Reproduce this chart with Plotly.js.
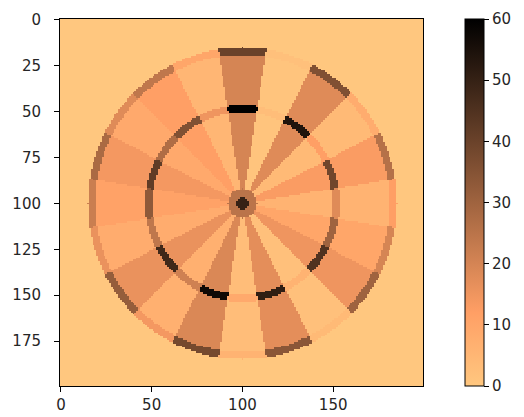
<!DOCTYPE html>
<html>
<head>
<meta charset="utf-8">
<script src="https://cdn.plot.ly/plotly-3.0.1.min.js"></script>
<style>
html,body{margin:0;padding:0;background:#fff;}
#chart{width:524px;height:417px;}
</style>
</head>
<body>
<div id="chart"></div>
<script>
// Dartboard sector numbers, clockwise from the top
const sectorNumbers = [20, 1, 18, 4, 13, 6, 10, 15, 2, 17, 3, 19, 7, 16, 8, 11, 14, 9, 12, 5];
// Ring edges (in pixels): bull, outer bull, triple in/out, double in/out
const ringEdges = [3.2, 8, 49.5, 53.5, 81, 85];
const bullValues = [50, 25];
const ringMultipliers = [1, 3, 1, 2];
const gridSize = [200, 200];
const boardCenter = [100, 100];
const xTicks = [0, 50, 100, 150];
const yTicks = [0, 25, 50, 75, 100, 125, 150, 175];
const cbTicks = [0, 10, 20, 30, 40, 50, 60];

function score(r, c) {
  const dx = c - boardCenter[0], dy = r - boardCenter[1];
  const d = Math.hypot(dx, dy);
  if (d <= ringEdges[0]) return bullValues[0];
  if (d <= ringEdges[1]) return bullValues[1];
  if (d > ringEdges[5]) return 0;
  let ang = Math.atan2(dx, -dy) * 180 / Math.PI;
  ang = (ang + 9 + 720) % 360;
  const n = sectorNumbers[Math.floor(ang / 18) % 20];
  let m;
  if (d < ringEdges[2]) m = ringMultipliers[0];
  else if (d <= ringEdges[3]) m = ringMultipliers[1];
  else if (d < ringEdges[4]) m = ringMultipliers[2];
  else m = ringMultipliers[3];
  return n * m;
}

const z = [];
for (let r = 0; r < gridSize[0]; r++) {
  const row = [];
  for (let c = 0; c < gridSize[1]; c++) row.push(score(r, c));
  z.push(row);
}

// matplotlib copper_r
const copperR = [
  [0, 'rgb(255,199,127)'],
  [0.2, 'rgb(255,159,101)'],
  [1, 'rgb(0,0,0)']
];

const tickFont = {family: 'DejaVu Sans', size: 15, color: '#262626'};

Plotly.newPlot('chart', [{
  type: 'heatmap',
  z: z,
  zmin: 0, zmax: 60,
  colorscale: copperR,
  zsmooth: false,
  hoverinfo: 'skip',
  colorbar: {
    x: 1.115, xanchor: 'left', xref: 'paper',
    y: 0.5, yanchor: 'middle', len: 1, lenmode: 'fraction',
    thickness: 19, xpad: 0, ypad: 0,
    outlinewidth: 1, outlinecolor: '#000',
    tickvals: cbTicks, ticks: 'outside', ticklen: 5, tickcolor: '#000',
    tickfont: tickFont
  }
}], {
  width: 524, height: 417,
  margin: {l: 60, r: 98, t: 19, b: 31},
  paper_bgcolor: '#fff', plot_bgcolor: '#fff',
  xaxis: {
    range: [-0.5, 199.5], tickvals: xTicks, ticks: 'outside', ticklen: 5,
    tickcolor: '#000', showline: true, mirror: true, linecolor: '#000', linewidth: 1,
    showgrid: false, zeroline: false, tickfont: tickFont
  },
  yaxis: {
    range: [199.5, -0.5], tickvals: yTicks, ticks: 'outside', ticklen: 5,
    tickcolor: '#000', showline: true, mirror: true, linecolor: '#000', linewidth: 1,
    showgrid: false, zeroline: false, tickfont: tickFont,
    ticklabelstandoff: 10
  }
}, {displayModeBar: false, staticPlot: true});
</script>
</body>
</html>
